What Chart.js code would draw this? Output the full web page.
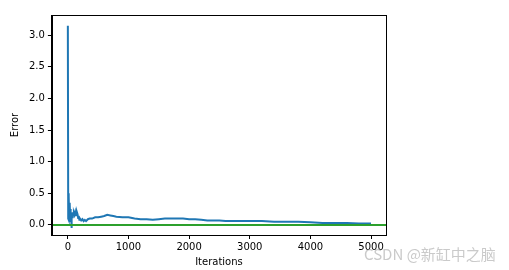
<!DOCTYPE html>
<html>
<head>
<meta charset="utf-8">
<script src="https://cdn.jsdelivr.net/npm/chart.js@4/dist/chart.umd.min.js"></script>
<style>
  html, body { margin: 0; padding: 0; background: #fff; }
  #wrap { width: 509px; height: 270px; position: relative; }
</style>
</head>
<body>
<div id="wrap"><canvas id="MyChart"></canvas></div>
<script>
// iterations and error
var iters = [0, 6, 10, 14, 18, 22, 26, 30, 34, 38, 42, 46, 50, 55, 60, 65, 70, 80, 90,
    100, 110, 120, 130, 140, 150, 160, 170, 180, 190, 200, 220, 240, 260, 280, 300, 330, 360, 400, 450,
    500, 550, 600, 650, 700, 750, 800, 900, 1000, 1100, 1200, 1300, 1400, 1500, 1600, 1700, 1800, 1900, 2000, 2100,
    2200, 2300, 2400, 2500, 2600, 2800, 3000, 3200, 3400, 3600, 3800, 4000, 4200, 4400, 4600, 4800, 5000];
var errors = [3.15, 0.1, 0.08, 0.5, 0.45, 0.1, 0.3, 0.05, 0.35, 0.12, 0.25, 0.08, 0.2, 0.1, -0.05, 0.18, 0.12, 0.2, 0.15,
    0.19, 0.16, 0.2, 0.14, 0.19, 0.2, 0.17, 0.11, 0.14, 0.08, 0.1, 0.07, 0.09, 0.06, 0.08, 0.06, 0.09, 0.1, 0.1, 0.12,
    0.12, 0.13, 0.14, 0.16, 0.15, 0.14, 0.13, 0.12, 0.12, 0.1, 0.09, 0.09, 0.08, 0.09, 0.1, 0.1, 0.1, 0.1, 0.09, 0.09,
    0.08, 0.07, 0.07, 0.07, 0.06, 0.06, 0.06, 0.06, 0.05, 0.05, 0.05, 0.04, 0.03, 0.03, 0.03, 0.02, 0.02];
var targetErr = 0;
var xTicks = [0, 1000, 2000, 3000, 4000, 5000];
var yTicks = [0.0, 0.5, 1.0, 1.5, 2.0, 2.5, 3.0];
var xLim = [-263, 5247];
var yLim = [-0.16, 3.32];

var curve = [];
for (var i = 0; i < iters.length; i++) {
    curve.push({ x: iters[i], y: errors[i] });
}
var target = [{ x: xLim[0], y: targetErr }, { x: xLim[1], y: targetErr }];

var boxPlugin = {
    id: 'box',
    afterDraw: function (chart) {
        var c = chart.ctx, a = chart.chartArea;
        c.save();
        c.strokeStyle = '#000';
        c.lineWidth = 1;
        c.strokeRect(Math.round(a.left) + 0.5, Math.round(a.top) + 0.5,
            Math.round(a.right - a.left), Math.round(a.bottom - a.top));
        c.fillStyle = 'rgba(150,150,150,0.5)';
        c.font = '15px "Noto Sans CJK SC", "DejaVu Sans"';
        c.textBaseline = 'middle';
        c.fillText('CSDN @新缸中之脑', 364, 254);
        c.restore();
    }
};

var ctx = document.getElementById('MyChart').getContext('2d');
var config = {
    type: 'line',
    data: {
        datasets: [
            {
                label: 'target',
                data: target,
                borderColor: '#2ca02c',
                borderWidth: 2,
                pointRadius: 0,
                order: 0
            },
            {
                label: 'error',
                data: curve,
                borderColor: '#1f77b4',
                borderWidth: 2,
                pointRadius: 0,
                tension: 0,
                order: 1
            }
        ]
    },
    options: {
        responsive: true,
        maintainAspectRatio: false,
        animation: false,
        layout: { padding: { top: 15, right: 123, bottom: 2, left: 9 } },
        plugins: { legend: { display: false }, tooltip: { enabled: false } },
        scales: {
            x: {
                type: 'linear',
                min: xLim[0],
                max: xLim[1],
                afterBuildTicks: function (axis) {
                    axis.ticks = xTicks.map(function (v) { return { value: v }; });
                },
                grid: { drawOnChartArea: false, tickLength: 4, tickColor: '#000' },
                border: { color: '#000' },
                ticks: {
                    color: '#000', font: { family: 'DejaVu Sans', size: 10 }, padding: 2, maxRotation: 0,
                    callback: function (v) { return String(v); }
                },
                title: { display: true, text: 'Iterations', color: '#000', font: { family: 'DejaVu Sans', size: 10 }, padding: { top: 1, bottom: 0 } }
            },
            y: {
                type: 'linear',
                min: yLim[0],
                max: yLim[1],
                afterBuildTicks: function (axis) {
                    axis.ticks = yTicks.map(function (v) { return { value: v }; });
                },
                grid: { drawOnChartArea: false, tickLength: 4, tickColor: '#000' },
                border: { color: '#000' },
                ticks: {
                    color: '#000', font: { family: 'DejaVu Sans', size: 10 }, padding: 3,
                    callback: function (v) { return v.toFixed(1); }
                },
                title: { display: true, text: 'Error', color: '#000', font: { family: 'DejaVu Sans', size: 10 }, padding: { top: 0, bottom: 5 } }
            }
        }
    },
    plugins: [boxPlugin]
};
var errChart = new Chart(ctx, config);
</script>
</body>
</html>
